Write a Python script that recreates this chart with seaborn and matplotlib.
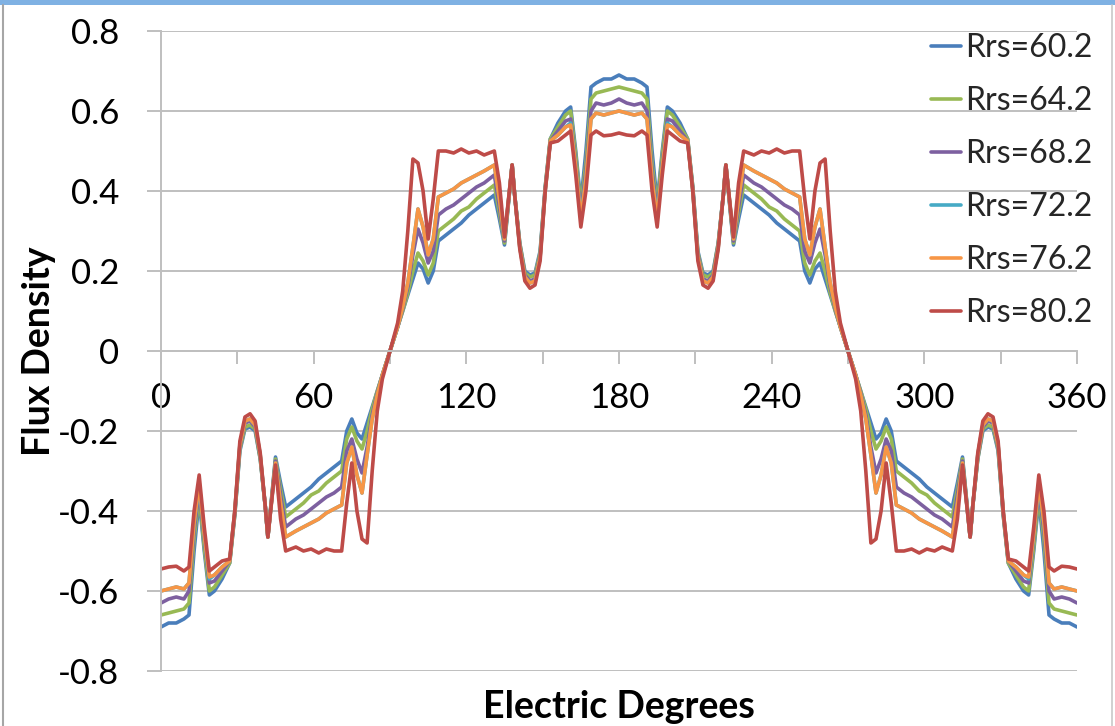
import numpy as np
import pandas as pd
import matplotlib
matplotlib.use("Agg")
import matplotlib.pyplot as plt
import seaborn as sns
from matplotlib.lines import Line2D
from matplotlib.patches import Rectangle

# ---------------- data ----------------
degrees = [0, 3, 6, 9, 11, 13, 15, 17, 19, 21, 24, 27, 29, 31, 33, 35, 37, 39, 41, 42, 45, 47, 49, 53, 56, 59,
           62, 65, 68, 71, 73, 75, 77, 79, 81, 83, 85, 87, 90,
           93, 95, 97, 99, 101, 103, 105, 107, 109, 112, 115, 118, 121, 124, 127, 131, 133, 135, 138, 139, 141,
           143, 145, 147, 149, 151, 153, 156, 159, 161, 163, 165, 167, 169, 171, 174, 177, 180,
           183, 186, 189, 191, 193, 195, 197, 199, 201, 204, 207, 209, 211, 213, 215, 217, 219, 221, 222, 225,
           227, 229, 233, 236, 239, 242, 245, 248, 251, 253, 255, 257, 259, 261, 263, 265, 267, 270,
           273, 275, 277, 279, 281, 283, 285, 287, 289, 292, 295, 298, 301, 304, 307, 311, 313, 315, 318, 319,
           321, 323, 325, 327, 329, 331, 333, 336, 339, 341, 343, 345, 347, 349, 351, 354, 357, 360]

rrs_60_2 = [-0.69, -0.68, -0.68, -0.67, -0.66, -0.50, -0.37, -0.50, -0.61, -0.60, -0.57, -0.53, -0.41, -0.25, -0.195,
            -0.19, -0.20, -0.27, -0.39, -0.465, -0.265, -0.33, -0.39, -0.37, -0.355, -0.34, -0.32, -0.305, -0.29,
            -0.275, -0.20, -0.17, -0.205, -0.22, -0.18, -0.14, -0.10, -0.06, 0.0,
            0.06, 0.10, 0.14, 0.18, 0.22, 0.205, 0.17, 0.20, 0.275, 0.29, 0.305, 0.32, 0.34, 0.355, 0.37, 0.39,
            0.33, 0.265, 0.465, 0.39, 0.27, 0.20, 0.19, 0.195, 0.25, 0.41, 0.53, 0.57, 0.60, 0.61, 0.50, 0.37,
            0.50, 0.66, 0.67, 0.68, 0.68, 0.69,
            0.68, 0.68, 0.67, 0.66, 0.50, 0.37, 0.50, 0.61, 0.60, 0.57, 0.53, 0.41, 0.25, 0.195, 0.19, 0.20,
            0.27, 0.39, 0.465, 0.265, 0.33, 0.39, 0.37, 0.355, 0.34, 0.32, 0.305, 0.29, 0.275, 0.20, 0.17,
            0.205, 0.22, 0.18, 0.14, 0.10, 0.06, 0.0,
            -0.06, -0.10, -0.14, -0.18, -0.22, -0.205, -0.17, -0.20, -0.275, -0.29, -0.305, -0.32, -0.34,
            -0.355, -0.37, -0.39, -0.33, -0.265, -0.465, -0.39, -0.27, -0.20, -0.19, -0.195, -0.25, -0.41,
            -0.53, -0.57, -0.60, -0.61, -0.50, -0.37, -0.50, -0.66, -0.67, -0.68, -0.68, -0.69]

rrs_64_2 = [-0.66, -0.655, -0.65, -0.645, -0.63, -0.47, -0.36, -0.49, -0.60, -0.59, -0.56, -0.53, -0.41, -0.245,
            -0.19, -0.185, -0.195, -0.27, -0.39, -0.465, -0.27, -0.345, -0.415, -0.395, -0.38, -0.36, -0.35,
            -0.33, -0.315, -0.30, -0.22, -0.19, -0.225, -0.245, -0.20, -0.145, -0.10, -0.06, 0.0,
            0.06, 0.10, 0.145, 0.20, 0.245, 0.225, 0.19, 0.22, 0.30, 0.315, 0.33, 0.35, 0.36, 0.38, 0.395, 0.415,
            0.345, 0.27, 0.465, 0.39, 0.27, 0.195, 0.185, 0.19, 0.245, 0.41, 0.53, 0.56, 0.59, 0.60, 0.49,
            0.36, 0.47, 0.63, 0.645, 0.65, 0.655, 0.66,
            0.655, 0.65, 0.645, 0.63, 0.47, 0.36, 0.49, 0.60, 0.59, 0.56, 0.53, 0.41, 0.245, 0.19, 0.185,
            0.195, 0.27, 0.39, 0.465, 0.27, 0.345, 0.415, 0.395, 0.38, 0.36, 0.35, 0.33, 0.315, 0.30, 0.22,
            0.19, 0.225, 0.245, 0.20, 0.145, 0.10, 0.06, 0.0,
            -0.06, -0.10, -0.145, -0.20, -0.245, -0.225, -0.19, -0.22, -0.30, -0.315, -0.33, -0.35, -0.36,
            -0.38, -0.395, -0.415, -0.345, -0.27, -0.465, -0.39, -0.27, -0.195, -0.185, -0.19, -0.245, -0.41,
            -0.53, -0.56, -0.59, -0.60, -0.49, -0.36, -0.47, -0.63, -0.645, -0.65, -0.655, -0.66]

rrs_68_2 = [-0.63, -0.62, -0.615, -0.62, -0.60, -0.45, -0.345, -0.47, -0.58, -0.575, -0.55, -0.525, -0.405, -0.24,
            -0.18, -0.175, -0.19, -0.265, -0.39, -0.465, -0.275, -0.36, -0.44, -0.42, -0.41, -0.395, -0.38,
            -0.365, -0.355, -0.34, -0.25, -0.22, -0.27, -0.305, -0.24, -0.16, -0.105, -0.06, 0.0,
            0.06, 0.105, 0.16, 0.24, 0.305, 0.27, 0.22, 0.25, 0.34, 0.355, 0.365, 0.38, 0.395, 0.41, 0.42, 0.44,
            0.36, 0.275, 0.465, 0.39, 0.265, 0.19, 0.175, 0.18, 0.24, 0.405, 0.525, 0.55, 0.575, 0.58, 0.47,
            0.345, 0.45, 0.60, 0.62, 0.615, 0.62, 0.63,
            0.62, 0.615, 0.62, 0.60, 0.45, 0.345, 0.47, 0.58, 0.575, 0.55, 0.525, 0.405, 0.24, 0.18, 0.175,
            0.19, 0.265, 0.39, 0.465, 0.275, 0.36, 0.44, 0.42, 0.41, 0.395, 0.38, 0.365, 0.355, 0.34, 0.25,
            0.22, 0.27, 0.305, 0.24, 0.16, 0.105, 0.06, 0.0,
            -0.06, -0.105, -0.16, -0.24, -0.305, -0.27, -0.22, -0.25, -0.34, -0.355, -0.365, -0.38, -0.395,
            -0.41, -0.42, -0.44, -0.36, -0.275, -0.465, -0.39, -0.265, -0.19, -0.175, -0.18, -0.24, -0.405,
            -0.525, -0.55, -0.575, -0.58, -0.47, -0.345, -0.45, -0.60, -0.62, -0.615, -0.62, -0.63]

# the Rrs=72.2 trace lies under the Rrs=76.2 trace in the picture
rrs_72_2 = [-0.60, -0.595, -0.59, -0.595, -0.58, -0.435, -0.335, -0.465, -0.57, -0.56, -0.54, -0.525, -0.40, -0.235,
            -0.175, -0.17, -0.185, -0.26, -0.39, -0.465, -0.28, -0.38, -0.465, -0.45, -0.44, -0.43, -0.42,
            -0.405, -0.395, -0.385, -0.28, -0.24, -0.31, -0.355, -0.26, -0.17, -0.11, -0.06, 0.0,
            0.06, 0.11, 0.17, 0.26, 0.355, 0.31, 0.24, 0.28, 0.385, 0.395, 0.405, 0.42, 0.43, 0.44, 0.45, 0.465,
            0.38, 0.28, 0.465, 0.39, 0.26, 0.185, 0.17, 0.175, 0.235, 0.40, 0.525, 0.54, 0.56, 0.57, 0.465,
            0.335, 0.435, 0.58, 0.595, 0.59, 0.595, 0.60,
            0.595, 0.59, 0.595, 0.58, 0.435, 0.335, 0.465, 0.57, 0.56, 0.54, 0.525, 0.40, 0.235, 0.175, 0.17,
            0.185, 0.26, 0.39, 0.465, 0.28, 0.38, 0.465, 0.45, 0.44, 0.43, 0.42, 0.405, 0.395, 0.385, 0.28,
            0.24, 0.31, 0.355, 0.26, 0.17, 0.11, 0.06, 0.0,
            -0.06, -0.11, -0.17, -0.26, -0.355, -0.31, -0.24, -0.28, -0.385, -0.395, -0.405, -0.42, -0.43,
            -0.44, -0.45, -0.465, -0.38, -0.28, -0.465, -0.39, -0.26, -0.185, -0.17, -0.175, -0.235, -0.40,
            -0.525, -0.54, -0.56, -0.57, -0.465, -0.335, -0.435, -0.58, -0.595, -0.59, -0.595, -0.60]

rrs_76_2 = [-0.60, -0.595, -0.59, -0.595, -0.58, -0.43, -0.33, -0.46, -0.565, -0.56, -0.54, -0.525, -0.40, -0.235,
            -0.175, -0.17, -0.185, -0.26, -0.39, -0.465, -0.28, -0.38, -0.465, -0.45, -0.44, -0.43, -0.42,
            -0.405, -0.395, -0.385, -0.28, -0.24, -0.31, -0.355, -0.26, -0.17, -0.11, -0.06, 0.0,
            0.06, 0.11, 0.17, 0.26, 0.355, 0.31, 0.24, 0.28, 0.385, 0.395, 0.405, 0.42, 0.43, 0.44, 0.45, 0.465,
            0.38, 0.28, 0.465, 0.39, 0.26, 0.185, 0.17, 0.175, 0.235, 0.40, 0.525, 0.54, 0.56, 0.565, 0.46,
            0.33, 0.43, 0.58, 0.595, 0.59, 0.595, 0.60,
            0.595, 0.59, 0.595, 0.58, 0.43, 0.33, 0.46, 0.565, 0.56, 0.54, 0.525, 0.40, 0.235, 0.175, 0.17,
            0.185, 0.26, 0.39, 0.465, 0.28, 0.38, 0.465, 0.45, 0.44, 0.43, 0.42, 0.405, 0.395, 0.385, 0.28,
            0.24, 0.31, 0.355, 0.26, 0.17, 0.11, 0.06, 0.0,
            -0.06, -0.11, -0.17, -0.26, -0.355, -0.31, -0.24, -0.28, -0.385, -0.395, -0.405, -0.42, -0.43,
            -0.44, -0.45, -0.465, -0.38, -0.28, -0.465, -0.39, -0.26, -0.185, -0.17, -0.175, -0.235, -0.40,
            -0.525, -0.54, -0.56, -0.565, -0.46, -0.33, -0.43, -0.58, -0.595, -0.59, -0.595, -0.60]

rrs_80_2 = [-0.545, -0.54, -0.538, -0.55, -0.54, -0.40, -0.31, -0.44, -0.55, -0.54, -0.525, -0.52, -0.40, -0.225,
            -0.165, -0.157, -0.175, -0.255, -0.39, -0.465, -0.285, -0.42, -0.50, -0.49, -0.50, -0.495, -0.505,
            -0.495, -0.50, -0.50, -0.38, -0.28, -0.40, -0.47, -0.48, -0.30, -0.15, -0.07, 0.0,
            0.07, 0.15, 0.30, 0.48, 0.47, 0.40, 0.28, 0.38, 0.50, 0.50, 0.495, 0.505, 0.495, 0.50, 0.49, 0.50,
            0.42, 0.285, 0.465, 0.39, 0.255, 0.175, 0.157, 0.165, 0.225, 0.40, 0.52, 0.525, 0.54, 0.55, 0.44,
            0.31, 0.40, 0.54, 0.55, 0.538, 0.54, 0.545,
            0.54, 0.538, 0.55, 0.54, 0.40, 0.31, 0.44, 0.55, 0.54, 0.525, 0.52, 0.40, 0.225, 0.165, 0.157,
            0.175, 0.255, 0.39, 0.465, 0.285, 0.42, 0.50, 0.49, 0.50, 0.495, 0.505, 0.495, 0.50, 0.50, 0.38,
            0.28, 0.40, 0.47, 0.48, 0.30, 0.15, 0.07, 0.0,
            -0.07, -0.15, -0.30, -0.48, -0.47, -0.40, -0.28, -0.38, -0.50, -0.50, -0.495, -0.505, -0.495,
            -0.50, -0.49, -0.50, -0.42, -0.285, -0.465, -0.39, -0.255, -0.175, -0.157, -0.165, -0.225, -0.40,
            -0.52, -0.525, -0.54, -0.55, -0.44, -0.31, -0.40, -0.54, -0.55, -0.538, -0.54, -0.545]

series_names = ["Rrs=60.2", "Rrs=64.2", "Rrs=68.2", "Rrs=72.2", "Rrs=76.2", "Rrs=80.2"]
series_values = [rrs_60_2, rrs_64_2, rrs_68_2, rrs_72_2, rrs_76_2, rrs_80_2]
series_colors = ["#4A7EBB", "#98B954", "#7D60A0", "#46AAC5", "#F79646", "#BE4B48"]

y_ticks = [0.8, 0.6, 0.4, 0.2, 0.0, -0.2, -0.4, -0.6, -0.8]
y_tick_labels = ["0.8", "0.6", "0.4", "0.2", "0", "-0.2", "-0.4", "-0.6", "-0.8"]
x_ticks = [0, 30, 60, 90, 120, 150, 180, 210, 240, 270, 300, 330, 360]
x_tick_labels = ["0", "", "60", "", "120", "", "180", "", "240", "", "300", "", "360"]

x_title = "Electric Degrees"
y_title = "Flux Density"

# ---------------- build long table ----------------
frames = []
for name, vals in zip(series_names, series_values):
    assert len(vals) == len(degrees), (name, len(vals), len(degrees))
    frames.append(pd.DataFrame({"deg": degrees, "flux": vals, "series": name}))
df = pd.concat(frames, ignore_index=True)

# ---------------- style ----------------
sns.set_theme(style="white")
plt.rcParams["font.family"] = ["Lato", "DejaVu Sans"]
plt.rcParams["axes.unicode_minus"] = False
plt.rcParams["lines.solid_joinstyle"] = "round"
plt.rcParams["lines.solid_capstyle"] = "round"

W, H = 1115, 726
fig = plt.figure(figsize=(W / 100, H / 100), dpi=100)
fig.patch.set_facecolor("white")
ax = fig.add_axes([161 / W, 55 / H, 916 / W, 640 / H])

sns.lineplot(data=df, x="deg", y="flux", hue="series", hue_order=series_names,
             palette=series_colors, linewidth=2.6, estimator=None, sort=False,
             ax=ax, legend=False)

ax.set_xlim(0, 360)
ax.set_ylim(-0.8, 0.8)

grid_col = "#BFBFBF"
ax.set_axisbelow(True)
ax.yaxis.grid(True, color=grid_col, linewidth=1.4)
ax.xaxis.grid(False)

for s in ["top", "right"]:
    ax.spines[s].set_visible(False)
ax.spines["bottom"].set_position(("data", 0))
for s in ["bottom", "left"]:
    ax.spines[s].set_color(grid_col)
    ax.spines[s].set_linewidth(1.4)

ax.set_yticks(y_ticks)
ax.set_yticklabels(y_tick_labels)
ax.set_xticks(x_ticks)
ax.set_xticklabels(x_tick_labels)
ax.tick_params(axis="y", left=True, direction="out", length=10, width=1.4, color=grid_col,
               pad=20, labelsize=25, labelcolor="black")
ax.tick_params(axis="x", bottom=True, direction="out", length=9.5, width=1.4, color=grid_col,
               pad=13, labelsize=25, labelcolor="black")

ax.set_xlabel(x_title, fontsize=27, fontweight="bold", color="black")
ax.xaxis.set_label_coords(0.5, -0.03)
ax.set_ylabel(y_title, fontsize=27, fontweight="bold", color="black")
ax.yaxis.set_label_coords(-0.115, 0.5)

handles = [Line2D([0], [0], color=c, linewidth=2.6) for c in series_colors]
ax.legend(handles, series_names, loc="upper right",
          bbox_to_anchor=(1092 / W, 1 - 33 / H), bbox_transform=fig.transFigure,
          frameon=False, fontsize=23, handlelength=0.95, handletextpad=0.1,
          labelspacing=0.72, borderpad=0, borderaxespad=0)

# outer chart frame (blue band at top, thin grey sides)
fig.add_artist(Rectangle((0, 1 - 5 / H), 1, 5 / H, transform=fig.transFigure,
                         facecolor="#7FB1E3", edgecolor="none"))
fig.add_artist(Line2D([3 / W, 3 / W], [0, 1 - 5 / H], transform=fig.transFigure,
                      color="#A6A6A6", linewidth=1.5))
fig.add_artist(Line2D([1112 / W, 1112 / W], [0, 1 - 5 / H], transform=fig.transFigure,
                      color="#C8C8C8", linewidth=1.2))

fig.savefig("out.png", dpi=100)
